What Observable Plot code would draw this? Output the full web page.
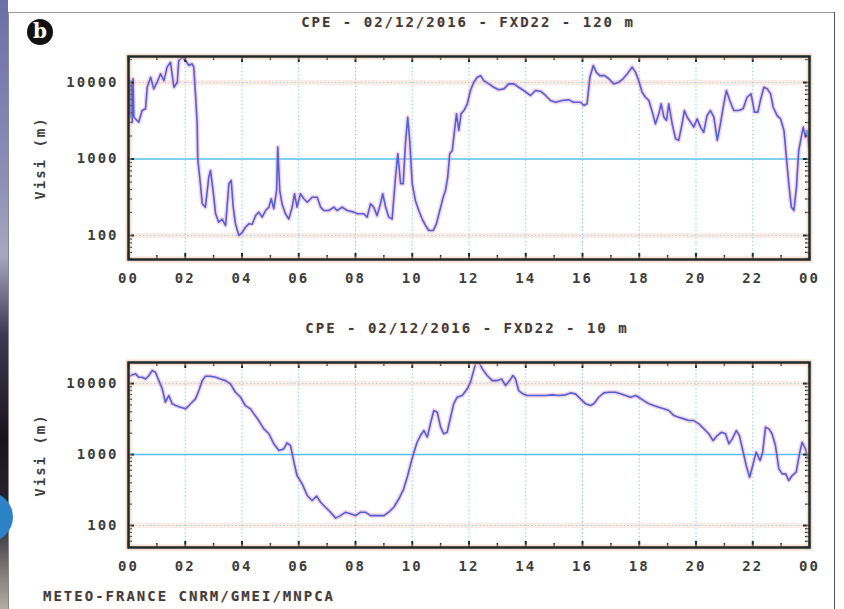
<!DOCTYPE html>
<html>
<head>
<meta charset="utf-8">
<script src="https://cdn.jsdelivr.net/npm/d3@7"></script>
<script src="https://cdn.jsdelivr.net/npm/@observablehq/plot@0.6"></script>
<style>
  html, body { margin: 0; padding: 0; background: #ffffff; }
  #page { position: relative; width: 844px; height: 609px; overflow: hidden; background: #ffffff; }
  .abs { position: absolute; }
  .gtxt { font-family: "DejaVu Sans Mono", monospace; font-size: 14px; font-weight: bold; color: #3d3d3d; letter-spacing: 2px; white-space: nowrap; text-shadow: 0 0 2px rgba(240,170,140,0.55); }
</style>
</head>
<body>
<div id="page">
  <div class="abs" style="left:0;top:0;width:8px;height:609px;background:linear-gradient(to bottom,#6a6fa8 0%,#8c8fb8 30%,#a9a7bf 42%,#3d3852 55%,#18141e 72%,#2a2530 85%,#8a8480 95%,#b5aca2 100%);"></div>
  <div class="abs" style="left:8px;top:12px;width:1px;height:597px;background:#8a8a8a;"></div>
  <div class="abs" style="left:8px;top:12px;width:827px;height:1px;background:#9a9a9a;"></div>
  <div class="abs" style="left:834px;top:12px;width:1px;height:597px;background:#555555;"></div>
  <div class="abs" style="left:-37px;top:492px;width:50px;height:50px;border-radius:50%;background:#2b82c4;"></div>
  <div class="abs" style="left:27px;top:19px;width:26px;height:26px;border-radius:50%;background:#111111;color:#ffffff;font-family:'DejaVu Serif',serif;font-weight:bold;font-size:20px;line-height:25px;text-align:center;">b</div>
  <div id="top" class="abs" style="left:0;top:0;"></div>
  <div id="bottom" class="abs" style="left:0;top:300px;"></div>
  <div id="title1" class="abs gtxt" style="left:0;width:936px;top:14px;text-align:center;"></div>
  <div id="title2" class="abs gtxt" style="left:0;width:934px;top:320px;text-align:center;"></div>
  <div id="footer" class="abs gtxt" style="left:43px;top:588px;"></div>
</div>
<script>
// ---- Data ----
const title120 = "CPE - 02/12/2016 - FXD22 - 120 m";
const title10 = "CPE - 02/12/2016 - FXD22 - 10 m";
const footerText = "METEO-FRANCE CNRM/GMEI/MNPCA";
const yLabel = "Visi (m)";

const xTickHours = [0, 2, 4, 6, 8, 10, 12, 14, 16, 18, 20, 22, 24];
const xTickLabels = ["00", "02", "04", "06", "08", "10", "12", "14", "16", "18", "20", "22", "00"];
const xMinorHours = [1, 3, 5, 7, 9, 11, 13, 15, 17, 19, 21, 23];
const yTickValues = [100, 1000, 10000];
const yMinorValues = [50, 60, 70, 80, 90, 200, 300, 400, 500, 600, 700, 800, 900, 2000, 3000, 4000, 5000, 6000, 7000, 8000, 9000, 20000];
const solidLevels = [1000];
const dottedLevels = [100, 10000];

const hours120 = [0.00,0.03,0.06,0.09,0.13,0.16,0.19,0.36,0.48,0.60,0.66,0.78,0.89,1.01,1.13,1.25,1.36,1.48,1.60,1.72,1.77,1.89,2.01,2.13,2.24,2.30,2.36,2.42,2.44,2.51,2.60,2.71,2.83,2.89,2.98,3.07,3.18,3.30,3.42,3.54,3.62,3.69,3.77,3.89,4.01,4.12,4.24,4.36,4.48,4.59,4.71,4.83,4.95,5.03,5.12,5.22,5.26,5.33,5.41,5.53,5.65,5.77,5.85,5.94,6.06,6.18,6.30,6.47,6.65,6.77,6.88,7.06,7.24,7.35,7.53,7.71,7.94,8.06,8.29,8.41,8.53,8.64,8.76,8.88,8.96,9.06,9.17,9.29,9.41,9.49,9.59,9.68,9.76,9.84,9.91,10.00,10.11,10.23,10.35,10.47,10.58,10.74,10.85,10.97,11.09,11.17,11.25,11.32,11.41,11.49,11.56,11.64,11.72,11.82,11.94,12.05,12.17,12.29,12.41,12.52,12.70,12.87,13.05,13.23,13.40,13.58,13.75,13.93,14.17,14.34,14.52,14.70,14.87,15.05,15.28,15.52,15.69,15.93,16.05,16.16,16.26,16.38,16.49,16.61,16.78,16.93,17.10,17.28,17.43,17.58,17.75,17.87,17.98,18.10,18.22,18.34,18.46,18.57,18.69,18.77,18.87,18.96,19.04,19.16,19.28,19.39,19.51,19.59,19.69,19.81,19.92,20.04,20.16,20.27,20.39,20.51,20.63,20.75,20.86,20.98,21.07,21.19,21.33,21.51,21.66,21.80,21.94,22.06,22.18,22.27,22.39,22.51,22.63,22.72,22.86,22.98,23.10,23.19,23.27,23.36,23.45,23.54,23.62,23.71,23.78,23.86,23.92,23.98];
const vis120 = [4000,11000,3500,10500,3030,11200,3520,3030,4300,4530,8680,11700,8270,10100,13000,10600,15900,18400,8680,10100,19400,21400,19400,16700,17600,15900,7110,2880,1010,578,260,235,578,708,387,192,149,164,135,474,524,235,142,100,110,128,142,140,182,202,174,212,235,302,224,387,1430,387,260,192,164,235,351,235,351,302,272,316,316,235,212,212,235,212,235,212,202,192,192,174,260,235,182,260,351,235,174,164,578,1170,474,474,1580,3520,1750,474,287,212,164,135,116,116,142,212,316,387,578,1170,1290,2360,3900,2360,3900,4300,5270,7860,10100,11700,12300,10600,9600,8680,8030,8270,9600,9600,8680,7860,6770,7860,7700,6770,5820,5530,5820,5930,5530,5530,5000,5270,11700,16700,13600,12300,12300,11200,9600,10100,11200,13000,15900,13600,10600,7460,6420,5820,4100,2880,3900,5270,3520,3190,5270,2880,1840,1750,2880,4300,3520,3030,2610,3350,2610,2240,3700,4300,3520,1750,2880,5270,7860,5820,4300,4300,4530,6420,7110,4100,4100,5820,8680,8270,7110,4750,3700,3350,2360,1010,474,235,212,428,1290,1930,2610,1930,2360,1430];

const hours10 = [0.00,0.07,0.25,0.36,0.48,0.60,0.72,0.83,0.95,1.07,1.19,1.30,1.42,1.54,1.66,1.83,2.01,2.13,2.24,2.36,2.48,2.60,2.71,2.89,3.07,3.24,3.42,3.59,3.77,3.95,4.12,4.30,4.42,4.59,4.77,4.95,5.12,5.30,5.47,5.59,5.71,5.83,5.94,6.12,6.30,6.47,6.63,6.77,6.94,7.12,7.30,7.47,7.65,7.82,8.00,8.18,8.35,8.53,8.76,9.00,9.17,9.35,9.53,9.70,9.84,9.96,10.06,10.17,10.29,10.41,10.53,10.64,10.76,10.88,11.00,11.11,11.23,11.35,11.46,11.58,11.76,11.94,12.05,12.23,12.35,12.47,12.64,12.82,12.99,13.15,13.29,13.43,13.55,13.64,13.75,13.90,14.05,14.23,14.46,14.70,14.93,15.17,15.40,15.58,15.75,15.93,16.11,16.28,16.40,16.57,16.75,16.93,17.16,17.34,17.52,17.69,17.87,17.98,18.16,18.34,18.51,18.69,18.87,19.04,19.22,19.39,19.57,19.75,19.92,20.10,20.28,20.45,20.60,20.75,20.90,21.04,21.16,21.28,21.42,21.53,21.65,21.77,21.89,22.00,22.12,22.26,22.35,22.45,22.57,22.68,22.80,22.92,23.04,23.16,23.27,23.39,23.53,23.65,23.74,23.86,23.95];
const vis10 = [12500,12970,13700,12260,12260,11600,12970,15240,14400,11000,8420,5460,6780,5180,4900,4640,4400,4900,5460,6090,7970,11000,12670,12670,12260,11600,11000,9900,7540,6410,4900,4400,3740,3010,2300,1960,1420,1140,1200,1460,1340,780,506,386,265,225,259,213,181,154,127,138,154,146,138,154,154,138,138,138,154,181,238,329,506,780,1080,1490,1850,2180,1760,2710,4170,3940,2430,1960,2060,3350,5180,6410,6780,8420,10400,18940,20000,16100,12970,11000,11000,11600,9370,11000,12970,11600,7970,7160,6780,6780,6780,6780,6930,6780,6930,7390,7160,6090,5180,4900,5180,6410,7390,7540,7540,7160,6780,6410,6780,6410,5760,5180,4900,4640,4400,4170,3540,3350,3180,3010,3010,2710,2300,1960,1570,1850,2060,1960,1420,1660,2180,1850,1140,700,478,700,1080,823,1080,2430,2300,1960,1340,628,534,534,430,506,564,1040,1490,1200,870];

// ---- Chart builder ----
function makeChart(hours, vis, yDomain, height, marginTop, marginBottom) {
  const W = 844, ML = 128, MR = 35;
  const innerH = height - marginTop - marginBottom;
  const innerW = W - ML - MR;
  const data = hours.map((x, i) => ({x, y: vis[i]}));
  const ink = "#1d2b2b";
  return Plot.plot({
    width: W, height,
    marginLeft: ML, marginRight: MR, marginTop, marginBottom,
    style: {fontFamily: "'DejaVu Sans Mono', monospace", fontSize: "14px", fontWeight: "bold", color: "#3d3d3d", background: "transparent", letterSpacing: "2px", overflow: "visible"},
    x: {domain: [0, 24]},
    y: {type: "log", domain: yDomain},
    marks: [
      Plot.ruleY(dottedLevels, {stroke: "#f6d6c6", strokeWidth: 5, strokeOpacity: 0.45}),
      Plot.ruleX(xTickHours, {stroke: "#7cc2e2", strokeDasharray: "1.2,2.5", strokeWidth: 1}),
      Plot.ruleY(dottedLevels, {stroke: "#a6cfe0", strokeDasharray: "1.2,2.5", strokeWidth: 1}),
      Plot.ruleY(solidLevels, {stroke: "#56bfea", strokeWidth: 1.6}),
      Plot.line(data, {x: "x", y: "y", stroke: "#ee9ac4", strokeWidth: 4.5, strokeOpacity: 0.45, clip: true}),
      Plot.line(data, {x: "x", y: "y", stroke: "#4d62d6", strokeWidth: 1.6, clip: true}),
      Plot.tickX(xTickHours, {stroke: ink, strokeWidth: 2, insetTop: innerH - 6}),
      Plot.tickX(xTickHours, {stroke: ink, strokeWidth: 2, insetBottom: innerH - 6}),
      Plot.tickX(xMinorHours, {stroke: ink, strokeWidth: 1.5, insetTop: innerH - 4}),
      Plot.tickX(xMinorHours, {stroke: ink, strokeWidth: 1.5, insetBottom: innerH - 4}),
      Plot.tickY(yTickValues, {stroke: ink, strokeWidth: 2, insetRight: innerW - 6}),
      Plot.tickY(yTickValues, {stroke: ink, strokeWidth: 2, insetLeft: innerW - 6}),
      Plot.tickY(yMinorValues.filter(v => v >= yDomain[0] && v <= yDomain[1]), {stroke: ink, strokeWidth: 1.3, insetRight: innerW - 4}),
      Plot.tickY(yMinorValues.filter(v => v >= yDomain[0] && v <= yDomain[1]), {stroke: ink, strokeWidth: 1.3, insetLeft: innerW - 4}),
      Plot.frame({stroke: "#f3bca2", strokeWidth: 6, strokeOpacity: 0.5}),
      Plot.frame({stroke: ink, strokeWidth: 2.5}),
      Plot.axisY({ticks: yTickValues, tickFormat: d => String(d), tickSize: 0, tickPadding: 10, label: yLabel, labelAnchor: "center", labelOffset: 93, labelArrow: false}),
      Plot.axisX({ticks: xTickHours, tickFormat: d => xTickLabels[xTickHours.indexOf(d)], tickSize: 0, tickPadding: 14, label: null})
    ]
  });
}

document.getElementById("top").append(makeChart(hours120, vis120, [48.5, 21900], 300, 56, 41));
document.getElementById("bottom").append(makeChart(hours10, vis10, [49, 19800], 309, 62, 62));
document.getElementById("title1").textContent = title120;
document.getElementById("title2").textContent = title10;
document.getElementById("footer").textContent = footerText;
</script>
</body>
</html>
